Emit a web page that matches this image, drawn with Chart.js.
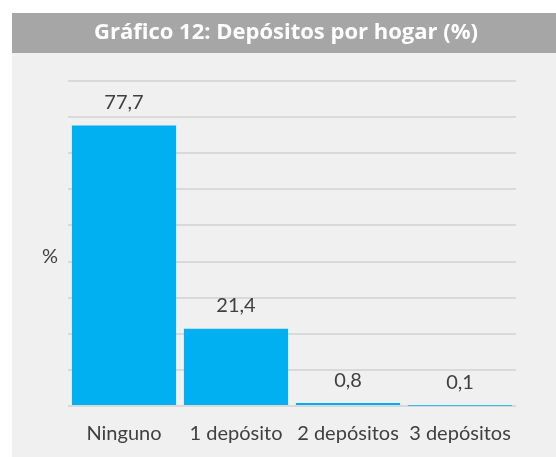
<!DOCTYPE html>
<html>
<head>
<meta charset="utf-8">
<script src="https://cdn.jsdelivr.net/npm/chart.js@4/dist/chart.umd.min.js"></script>
<style>
  body { margin: 0; background: #ffffff; }
  canvas { display: block; }
</style>
</head>
<body>
<canvas id="depositosChart" width="556" height="457"></canvas>
<script>
// Chart data
let titleText = 'Gráfico 12: Depósitos por hogar (%)';
let categories = ['Ninguno', '1 depósito', '2 depósitos', '3 depósitos'];
let hogaresValues = [77.7, 21.4, 0.8, 0.1];
let yAxisLabel = '%';

let fontFamily = 'Lato, "Open Sans", sans-serif';
let textColor = '#404040';

/**
 * Background panel and title bar, drawn behind the chart.
 */
let panelPlugin = {
    id: 'panel',
    beforeDraw: function (chart) {
        let c = chart.ctx;
        c.save();
        c.fillStyle = '#ffffff';
        c.fillRect(0, 0, chart.width, chart.height);
        c.fillStyle = '#f0f0f0';
        c.fillRect(12, 13, chart.width - 12, chart.height - 13);
        c.fillStyle = '#a6a6a6';
        c.fillRect(12, 13, chart.width - 12, 40);
        c.fillStyle = '#ffffff';
        c.font = 'bold 22px "Open Sans", sans-serif';
        c.textAlign = 'center';
        c.textBaseline = 'middle';
        c.fillText(titleText, 286, 33);
        c.restore();
    },
    afterDraw: function (chart) {
        let c = chart.ctx;
        c.save();
        c.fillStyle = textColor;
        c.font = '20px ' + fontFamily;
        c.textAlign = 'center';
        c.textBaseline = 'middle';
        c.fillText(yAxisLabel, 50, 257);
        c.restore();
    }
};

/**
 * Value labels above each bar, with a decimal comma.
 */
let valueLabelPlugin = {
    id: 'valueLabels',
    afterDatasetsDraw: function (chart) {
        let c = chart.ctx;
        let meta = chart.getDatasetMeta(0);
        c.save();
        c.fillStyle = textColor;
        c.font = '20px ' + fontFamily;
        c.textAlign = 'center';
        c.textBaseline = 'middle';
        meta.data.forEach(function (bar, i) {
            let label = hogaresValues[i].toFixed(1).replace('.', ',');
            c.fillText(label, bar.x, bar.y - 23);
        });
        c.restore();
    }
};

let ctx = document.getElementById('depositosChart').getContext('2d');

let depositosChart = new Chart(ctx, {
    type: 'bar',
    data: {
        labels: categories,
        datasets: [{
            label: 'Hogares (%)',
            data: hogaresValues,
            backgroundColor: '#00b0f0',
            borderWidth: 0,
            categoryPercentage: 1,
            barPercentage: 0.93
        }]
    },
    options: {
        responsive: false,
        animation: false,
        layout: {
            padding: { left: 68, right: 40, top: 81, bottom: 11 }
        },
        plugins: {
            legend: { display: false },
            title: { display: false },
            tooltip: { enabled: false }
        },
        scales: {
            x: {
                grid: { display: false },
                border: { display: false },
                ticks: {
                    color: textColor,
                    font: { family: fontFamily, size: 20 },
                    padding: 8,
                    maxRotation: 0,
                    autoSkip: false
                },
                afterFit: function (scale) {
                    scale.height = 40;
                }
            },
            y: {
                min: 0,
                max: 90,
                ticks: { display: false, stepSize: 10 },
                grid: { color: '#d9d9d9', lineWidth: 2, drawTicks: false },
                border: { display: false }
            }
        }
    },
    plugins: [panelPlugin, valueLabelPlugin]
});
</script>
</body>
</html>
